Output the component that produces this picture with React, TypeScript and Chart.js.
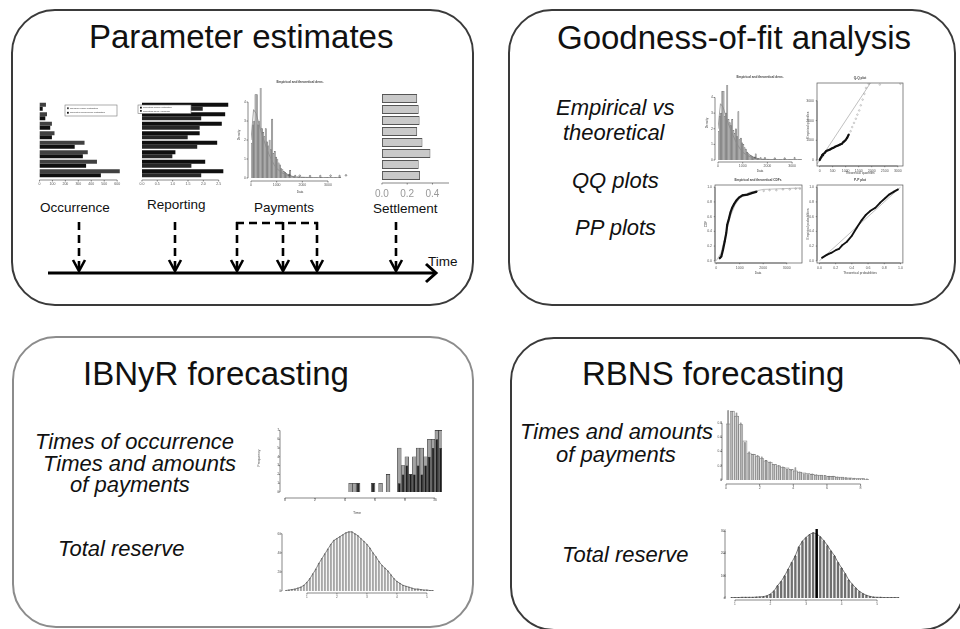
import React, { useEffect, useRef } from 'react';
import { Chart, registerables } from 'chart.js';

Chart.register(...registerables);

const FONT = "'Liberation Sans', Arial, Helvetica, sans-serif";
Chart.defaults.font.family = FONT;

// ---------------- data ----------------
// Parameter estimates: occurrence (horizontal paired bars)
const occCategories = ['1', '2', '3', '4', '5', '6', '7', '8'];
const occModel = [50, 58, 96, 116, 348, 373, 444, 620];
const occReported = [25, 45, 83, 96, 272, 335, 360, 474];
const occTicks = [0, 100, 200, 300, 400, 500, 600];
const occLegend = ['Number model estimated', 'Reported occurrence estimated'];

// reporting delay (horizontal paired bars)
const repModel = [2.81, 2.71, 2.6, 1.88, 2.45, 1.09, 2.06, 2.65];
const repObserved = [1.98, 1.93, 1.88, 1.49, 1.8, 0.99, 1.61, 1.93];
const repTicks = [0, 0.5, 1, 1.5, 2, 2.5];
const repTickLabels = ['0.0', '0.5', '1.0', '1.5', '2.0', '2.5'];
const repLegend = ['Reporting model estimated', 'Reporting delay empirical'];

// payments: histogram of amounts (bin width 50) + fitted density
const payBinStart = 0;
const payBinWidth = 50;
const payDensity = [
  1.84, 2.8, 3.0, 4.4, 4.4, 2.8, 3.0, 4.8, 2.6, 2.4,
  2.2, 2.6, 1.9, 1.7, 2.0, 1.5, 3.1, 1.3, 1.4, 1.1,
  1.0, 0.8, 0.7, 0.5, 0.45, 0.35, 0.3, 0.25, 0.2, 0.18,
  0.4, 0.12, 0.1, 0.08, 0.15, 0.05, 0.06, 0.04, 0.05, 0.03,
  0.04, 0.03, 0.02, 0.03, 0.02, 0.02, 0.03, 0.02, 0.01, 0.02,
  0.02, 0.02, 0.01, 0.02, 0.03, 0.02, 0.01, 0.02, 0.02, 0.03,
  0.02, 0.01, 0.02, 0.02, 0.01, 0.02, 0.02, 0.01, 0.02, 0.03,
];
const payCurveX = [0, 100, 200, 300, 400, 500, 600, 700, 800, 900, 1000, 1200, 1400, 1600, 1800, 2200, 2600, 3000, 3500];
const payCurveY = [2.0, 3.6, 3.4, 2.9, 2.4, 2.0, 1.6, 1.25, 0.95, 0.7, 0.5, 0.28, 0.15, 0.08, 0.05, 0.03, 0.02, 0.015, 0.01];
const payPointsX = [1500, 1900, 2300, 2700, 3100, 3450, 3700];
const payPointsY = [0.15, 0.12, 0.1, 0.1, 0.12, 0.1, 0.14];
const payTicksX = [0, 1000, 2000, 3000];
const payTicksY = [0, 1, 2, 3, 4];

// settlement
const settleCategories = ['1', '2', '3', '4', '5', '6', '7', '8'];
const settleValues = [0.279, 0.291, 0.298, 0.279, 0.321, 0.384, 0.291, 0.302];
const settleTicks = [0, 0.2, 0.4];
const settleTickLabels = ['0.0', '0.2', '0.4'];

// Goodness of fit: Q-Q plot (thousands)
const qqDarkX = [0.0, 0.03, 0.07, 0.1, 0.13, 0.2, 0.26, 0.33, 0.4, 0.46, 0.53, 0.59, 0.66, 0.73, 0.79, 0.86, 0.92, 0.99, 1.06, 1.12];
const qqDarkY = [-0.01, 0.08, 0.16, 0.25, 0.29, 0.37, 0.46, 0.5, 0.54, 0.58, 0.62, 0.67, 0.71, 0.75, 0.79, 0.83, 0.92, 1.0, 1.13, 1.3];
const qqLightX = [1.19, 1.25, 1.32, 1.39, 1.45, 1.52, 1.58, 1.65, 1.72, 1.78, 1.88, 2.31, 3.1];
const qqLightY = [1.46, 1.67, 1.88, 2.09, 2.3, 2.51, 2.77, 3.06, 3.35, 3.65, 3.86, 3.82, 3.86];
const qqLineX = [-0.1, 1.95];
const qqLineY = [-0.2, 3.9];
const qqTicksX = [0, 0.5, 1, 1.5, 2, 2.5, 3];
const qqTickLabelsX = ['0', '500', '1000', '1500', '2000', '2500', '3000'];
const qqTicksY = [0, 1, 2, 3];
const qqTickLabelsY = ['0', '1000', '2000', '3000'];

// Goodness of fit: CDF (thousands)
const cdfX = [0.14, 0.22, 0.29, 0.36, 0.43, 0.47, 0.54, 0.61, 0.68, 0.76, 0.86, 0.97, 1.12, 1.33, 1.51, 1.73, 2.02, 2.27, 2.56, 2.84, 3.13, 3.38, 3.56];
const cdfY = [0.03, 0.06, 0.15, 0.26, 0.38, 0.49, 0.57, 0.66, 0.72, 0.77, 0.82, 0.86, 0.89, 0.9, 0.92, 0.94, 0.95, 0.96, 0.96, 0.97, 0.97, 0.98, 0.98];
const cdfFitX = [0, 0.2, 0.4, 0.6, 0.8, 1.0, 1.4, 2.0, 3.6];
const cdfFitY = [0, 0.1, 0.35, 0.6, 0.76, 0.85, 0.93, 0.97, 0.99];
const cdfTicksX = [0, 1, 2, 3];
const cdfTickLabelsX = ['0', '1000', '2000', '3000'];
const probTicks = [0, 0.2, 0.4, 0.6, 0.8, 1];
const probTickLabels = ['0.0', '0.2', '0.4', '0.6', '0.8', '1.0'];

// Goodness of fit: P-P plot
const ppX = [0.03, 0.09, 0.15, 0.21, 0.24, 0.28, 0.34, 0.4, 0.46, 0.52, 0.57, 0.63, 0.69, 0.75, 0.81, 0.86, 0.92, 0.97];
const ppY = [0.04, 0.08, 0.11, 0.15, 0.16, 0.21, 0.26, 0.34, 0.45, 0.55, 0.62, 0.68, 0.72, 0.79, 0.85, 0.9, 0.94, 0.97];
const ppLineX = [0, 1];
const ppLineY = [0, 1];

// IBNyR: simulated times (bin width 0.25)
const ibnyrBinStart = 4.25;
const ibnyrBinWidth = 0.25;
const ibnyrOccurrence = [1, 1, 1, 0, 0, 0, 1, 0, 1, 0, 2, 0, 0, 5, 3, 4, 2, 4, 5, 5, 4, 6, 6, 7, 7];
const ibnyrPayments = [0, 0, 1, 0, 0, 0, 1, 0, 0, 0, 0, 0, 0, 1, 2, 3, 2, 2, 3, 2, 3, 4, 5, 6, 5];
const ibnyrTicksX = [0, 2, 4, 6, 8, 10];
const ibnyrTicksY = [0, 1, 2, 3, 4, 5, 6, 7];

// IBNyR total reserve (bin width 0.1)
const ibnyrResStart = 0.25;
const ibnyrResWidth = 0.1;
const ibnyrReserve = [
  0.5, 1, 1.5, 2, 3, 4, 6, 9, 13, 18,
  23, 29, 34, 39, 44, 49, 53, 55, 57, 59,
  61, 62, 62, 60, 58, 55, 52, 49, 45, 40,
  36, 31, 27, 24, 21, 17, 13, 10, 8, 6,
  5, 4, 3, 2, 2, 1.5, 1, 1, 0.5, 0.5,
];
const ibnyrResTicksX = [1, 2, 3, 4, 5];
const ibnyrResTicksY = [0, 20, 40, 60];

// RBNS: times and amounts of payments (bin width 0.25)
const rbnsBinStart = 0;
const rbnsBinWidth = 0.25;
const rbnsPayA = [0.98, 0.97, 0.95, 0.81, 0.53, 0.4, 0.37, 0.35, 0.33, 0.28, 0.26, 0.21, 0.21, 0.19, 0.16, 0.14, 0.18, 0.12, 0.09, 0.08, 0.09, 0.08, 0.07, 0.07, 0.06, 0.06, 0.05, 0.04, 0.04, 0.03, 0.03, 0.02, 0.02, 0.02];
const rbnsPayB = [0.79, 0.97, 0.9, 0.78, 0.55, 0.38, 0.36, 0.33, 0.3, 0.27, 0.25, 0.22, 0.2, 0.18, 0.17, 0.15, 0.13, 0.11, 0.1, 0.09, 0.08, 0.07, 0.07, 0.06, 0.05, 0.05, 0.04, 0.04, 0.03, 0.03, 0.02, 0.02, 0.02, 0.01];
const rbnsTicksX = [0, 2, 4, 6, 8];
const rbnsTicksY = [0, 0.2, 0.4, 0.6, 0.8];

// RBNS total reserve (bin width 0.1)
const rbnsResStart = 0.85;
const rbnsResWidth = 0.1;
const rbnsReserve = [
  2, 2, 2, 3, 3, 3, 3, 4, 5,
  6, 10, 18, 32, 56, 75, 100, 130, 160, 190,
  230, 255, 272, 285, 293, 288, 275, 258, 236, 212,
  190, 160, 135, 110, 82, 62, 45, 30, 20, 12,
  7, 4, 3, 3, 2, 2, 2, 2, 2,
];
const rbnsResMean = 3.3;
const rbnsResTicksX = [1, 2, 3, 4, 5];
const rbnsResTicksY = [0, 100, 200, 300];

// ---------------- helpers ----------------
const centers = (start: number, width: number, n: number) =>
  Array.from({ length: n }, (_, i) => start + width * (i + 0.5));
const pts = (xs: number[], ys: number[]) => ys.map((y, i) => ({ x: xs[i], y }));
const hist = (start: number, width: number, ys: number[]) => pts(centers(start, width, ys.length), ys);

const rAxes = {
  id: 'rAxes',
  afterDatasetsDraw(chart: any, _a: any, o: any) {
    if (!o || !o.axes || !o.axes.length) return;
    const { ctx, chartArea: ca } = chart;
    ctx.save();
    ctx.strokeStyle = o.color || '#555';
    ctx.lineWidth = o.lineWidth ?? 0.7;
    for (const a of o.axes) {
      const s = chart.scales[a.id];
      if (!s || !s.ticks || !s.ticks.length) continue;
      const n = s.ticks.length;
      const tl = a.tick ?? 1.5;
      const gap = a.gap ?? 2;
      ctx.beginPath();
      if (s.isHorizontal()) {
        const y = ca.bottom + gap;
        const p0 = s.getPixelForValue(s.ticks[0].value);
        const p1 = a.full ? ca.right : s.getPixelForValue(s.ticks[n - 1].value);
        ctx.moveTo(p0, y);
        ctx.lineTo(p1, y);
        for (const t of s.ticks) {
          const p = s.getPixelForValue(t.value);
          ctx.moveTo(p, y);
          ctx.lineTo(p, y + tl);
        }
      } else {
        const x = ca.left - gap;
        const p0 = s.getPixelForValue(s.ticks[0].value);
        const p1 = s.getPixelForValue(s.ticks[n - 1].value);
        ctx.moveTo(x, p0);
        ctx.lineTo(x, p1);
        for (const t of s.ticks) {
          const p = s.getPixelForValue(t.value);
          ctx.moveTo(x, p);
          ctx.lineTo(x - tl, p);
        }
      }
      ctx.stroke();
    }
    ctx.restore();
  },
};

const framePlugin = {
  id: 'frame',
  afterDatasetsDraw(chart: any, _a: any, o: any) {
    if (!o || !o.on) return;
    const { ctx, chartArea: ca } = chart;
    ctx.save();
    ctx.strokeStyle = '#555';
    ctx.lineWidth = 0.7;
    ctx.strokeRect(ca.left, ca.top, ca.right - ca.left, ca.bottom - ca.top);
    ctx.restore();
  },
};

const notesPlugin = {
  id: 'notes',
  afterDraw(chart: any, _a: any, o: any) {
    if (!o || !o.items) return;
    const { ctx } = chart;
    for (const it of o.items) {
      ctx.save();
      ctx.font = `${it.b ? 'bold ' : ''}${it.s || 3.2}px ${FONT}`;
      ctx.fillStyle = it.c || '#444';
      ctx.textAlign = 'center';
      ctx.textBaseline = 'middle';
      ctx.translate(it.x, it.y);
      if (it.r) ctx.rotate((it.r * Math.PI) / 180);
      ctx.fillText(it.t, 0, 0);
      ctx.restore();
    }
  },
};

const boxLegend = {
  id: 'boxLegend',
  afterDatasetsDraw(chart: any, _a: any, o: any) {
    if (!o || !o.rect) return;
    const { ctx } = chart;
    const [x, y, w, h] = o.rect;
    ctx.save();
    ctx.fillStyle = '#fff';
    ctx.fillRect(x, y, w, h);
    ctx.strokeStyle = '#777';
    ctx.lineWidth = 0.6;
    ctx.strokeRect(x, y, w, h);
    const ds = chart.data.datasets;
    const rowH = (h - 2) / ds.length;
    ctx.font = `${o.size || 2.6}px ${FONT}`;
    ctx.textBaseline = 'middle';
    ds.forEach((d: any, i: number) => {
      const cy = y + 1 + rowH * (i + 0.5);
      ctx.fillStyle = d.backgroundColor;
      ctx.fillRect(x + 2, cy - 0.9, 1.8, 1.8);
      ctx.fillStyle = '#333';
      ctx.fillText(d.label, x + 5, cy);
    });
    ctx.restore();
  },
};

type Note = { t: string; x: number; y: number; s?: number; r?: number; c?: string; b?: boolean };
type Mini = {
  key: string;
  area: [number, number, number, number];
  m: [number, number, number, number];
  type: any;
  data: any;
  scales: Record<string, any>;
  indexAxis?: 'x' | 'y';
  axes?: any[];
  frame?: boolean;
  notes?: Note[];
  legend?: { rect: [number, number, number, number]; size: number };
};

function lin(min: number, max: number, ticks: number[], labels?: string[], opts: any = {}) {
  return {
    type: 'linear',
    min,
    max,
    offset: false,
    bounds: 'data',
    display: opts.display ?? true,
    grid: { display: false, drawTicks: false },
    border: { display: false },
    afterBuildTicks: (sc: any) => {
      sc.ticks = ticks.map((v) => ({ value: v }));
    },
    ticks: {
      autoSkip: false,
      maxRotation: 0,
      minRotation: 0,
      padding: opts.padding ?? 4,
      color: opts.color || '#555',
      font: { size: opts.size || 3.5, family: FONT },
      callback: (v: any, i: number) => (labels ? labels[i] : String(v)),
    },
  };
}

function buildConfig(s: Mini, left: number, top: number) {
  const [ml, mt, mr, mb] = s.m;
  const scales: any = {};
  let xShown = false;
  let yShown = false;
  for (const id of Object.keys(s.scales)) {
    const o: any = { ...s.scales[id] };
    const horiz = id === 'x';
    if (o.display !== false) {
      if (horiz) xShown = true;
      else yShown = true;
      o.afterFit = (sc: any) => {
        if (horiz) sc.height = mb;
        else sc.width = ml;
      };
    }
    scales[id] = o;
  }
  const notes = (s.notes || []).map((n) => ({ ...n, x: n.x - left, y: n.y - top }));
  const legend = s.legend
    ? { rect: [s.legend.rect[0] - left, s.legend.rect[1] - top, s.legend.rect[2], s.legend.rect[3]], size: s.legend.size }
    : {};
  return {
    type: s.type,
    data: s.data,
    options: {
      animation: false,
      responsive: false,
      maintainAspectRatio: false,
      events: [],
      indexAxis: s.indexAxis || 'x',
      layout: {
        autoPadding: false,
        padding: { left: yShown ? 0 : ml, top: mt, right: mr, bottom: xShown ? 0 : mb },
      },
      scales,
      plugins: {
        legend: { display: false },
        tooltip: { enabled: false },
        title: { display: false },
        rAxes: { axes: s.axes || [] },
        frame: { on: !!s.frame },
        notes: { items: notes },
        boxLegend: legend,
      },
    },
    plugins: [rAxes, framePlugin, notesPlugin, boxLegend],
  } as any;
}

function MiniChart({ spec }: { spec: Mini }) {
  const ref = useRef<HTMLCanvasElement | null>(null);
  const [l, t, r, b] = spec.area;
  const [ml, mt, mr, mb] = spec.m;
  const left = l - ml;
  const top = t - mt;
  const w = r - l + ml + mr;
  const h = b - t + mt + mb;
  useEffect(() => {
    if (!ref.current) return;
    const chart = new Chart(ref.current, buildConfig(spec, left, top));
    return () => chart.destroy();
  }, []);
  return (
    <canvas
      ref={ref}
      width={w}
      height={h}
      style={{ position: 'absolute', left, top, width: w, height: h }}
    />
  );
}

// ---------------- chart specs ----------------
const histBar = (data: any, fill: string, border: string, bw = 0.4, bp = 1) => ({
  type: 'bar',
  data,
  backgroundColor: fill,
  borderColor: border,
  borderWidth: bw,
  barPercentage: bp,
  categoryPercentage: 1,
  grouped: false,
});
const lineDs = (data: any, color: string, width: number, radius = 0, dash: number[] = []) => ({
  type: 'line',
  data,
  borderColor: color,
  backgroundColor: color,
  borderWidth: width,
  pointRadius: radius,
  pointBorderWidth: 0,
  borderDash: dash,
  tension: 0,
  fill: false,
});
const pointDs = (data: any, color: string, radius: number, fill = true) => ({
  type: 'line',
  data,
  showLine: false,
  borderColor: color,
  backgroundColor: fill ? color : 'rgba(0,0,0,0)',
  pointRadius: radius,
  pointBorderWidth: 0.5,
});

const barOpts = { categoryPercentage: 0.84, barPercentage: 1 };

const specs: Mini[] = [
  {
    key: 'occurrence',
    area: [37, 102, 123, 178],
    m: [2, 2, 2, 12],
    type: 'bar',
    indexAxis: 'y',
    data: {
      labels: occCategories,
      datasets: [
        { label: occLegend[0], data: occModel, backgroundColor: '#404040', ...barOpts },
        { label: occLegend[1], data: occReported, backgroundColor: '#0f0f0f', ...barOpts },
      ],
    },
    scales: {
      x: lin(0, 645, occTicks, undefined, { padding: 3.5 }),
      y: { type: 'category', display: false, offset: true },
    },
    axes: [{ id: 'x', gap: 2 }],
    legend: { rect: [65, 105, 52, 11], size: 2.5 },
  },
  {
    key: 'reporting',
    area: [138, 102, 231, 178],
    m: [2, 2, 2, 12],
    type: 'bar',
    indexAxis: 'y',
    data: {
      labels: occCategories,
      datasets: [
        { label: repLegend[0], data: repModel, backgroundColor: '#0f0f0f', ...barOpts },
        { label: repLegend[1], data: repObserved, backgroundColor: '#262626', ...barOpts },
      ],
    },
    scales: {
      x: lin(0, 2.9, repTicks, repTickLabels, { padding: 3.5 }),
      y: { type: 'category', display: false, offset: true },
    },
    axes: [{ id: 'x', gap: 2 }],
    legend: { rect: [138, 105, 53, 8.5], size: 2.4 },
  },
  {
    key: 'payments',
    area: [251, 88, 349, 178],
    m: [15, 9, 3, 17],
    type: 'bar',
    data: {
      datasets: [
        pointDs(pts(payPointsX, payPointsY), '#333', 0.8, false),
        lineDs(pts(payCurveX, payCurveY), '#8a8a8a', 0.8),
        histBar(hist(payBinStart, payBinWidth, payDensity), '#b0b0b0', '#5e5e5e'),
      ],
    },
    scales: {
      x: lin(0, 3818, payTicksX, undefined, { padding: 4.5 }),
      y: lin(0, 4.74, payTicksY, undefined, { padding: 5 }),
    },
    axes: [{ id: 'x', gap: 3 }, { id: 'y', gap: 3 }],
    notes: [
      { t: 'Empirical and theoretical dens.', x: 300, y: 82, s: 3.2, b: true },
      { t: 'Density', x: 239, y: 135, r: -90 },
      { t: 'Data', x: 300, y: 192 },
    ],
  },
  {
    key: 'settlement',
    area: [372, 93, 449, 181],
    m: [4, 2, 3, 20],
    type: 'bar',
    indexAxis: 'y',
    data: {
      labels: settleCategories,
      datasets: [
        {
          label: 'Settlement',
          data: settleValues,
          backgroundColor: '#c9c9c9',
          borderColor: '#555',
          borderWidth: 1,
          borderSkipped: false,
          categoryPercentage: 1,
          barPercentage: 0.8,
        },
      ],
    },
    scales: {
      x: lin(0, 0.531, settleTicks, settleTickLabels, { padding: 7, size: 10, color: '#999' }),
      y: { type: 'category', display: false, offset: true },
    },
    axes: [{ id: 'x', gap: 2, full: true, tick: 1.5 }],
  },
  {
    key: 'gofHist',
    area: [718, 85, 802, 160],
    m: [14, 11, 3, 14],
    type: 'bar',
    data: {
      datasets: [
        pointDs(pts(payPointsX, payPointsY), '#333', 0.7, false),
        lineDs(pts(payCurveX, payCurveY), '#8a8a8a', 0.8),
        histBar(hist(payBinStart, payBinWidth, payDensity), '#b0b0b0', '#5e5e5e'),
      ],
    },
    scales: {
      x: lin(0, 3400, payTicksX, undefined, { padding: 4 }),
      y: lin(0, 4.8, payTicksY, undefined, { padding: 5 }),
    },
    axes: [{ id: 'x', gap: 2 }, { id: 'y', gap: 3 }],
    notes: [
      { t: 'Empirical and theoretical dens.', x: 760, y: 77, s: 3.2, b: true },
      { t: 'Density', x: 707, y: 123, r: -90 },
      { t: 'Data', x: 760, y: 171 },
    ],
  },
  {
    key: 'qq',
    area: [817, 83, 903, 166],
    m: [13, 9, 3, 10],
    type: 'scatter',
    data: {
      datasets: [
        lineDs(pts(qqDarkX, qqDarkY), '#111', 2.2, 0.9),
        pointDs(pts(qqLightX, qqLightY), '#9a9a9a', 0.8, false),
        lineDs(pts(qqLineX, qqLineY), '#b0b0b0', 0.8),
      ],
    },
    scales: {
      x: lin(-0.1, 3.2, qqTicksX, qqTickLabelsX, { padding: 3 }),
      y: lin(-0.3, 3.9, qqTicksY, qqTickLabelsY, { padding: 3 }),
    },
    axes: [{ id: 'x', gap: 0, tick: 1.2 }, { id: 'y', gap: 0, tick: 1.2 }],
    frame: true,
    notes: [
      { t: 'Q-Q plot', x: 860, y: 78, s: 3.2, b: true },
      { t: 'Theoretical quantiles', x: 860, y: 173 },
      { t: 'Empirical quantiles', x: 808, y: 125, r: -90 },
    ],
  },
  {
    key: 'cdf',
    area: [715, 185, 802, 263],
    m: [13, 9, 3, 13],
    type: 'scatter',
    data: {
      datasets: [
        lineDs(pts(cdfX.slice(0, 16), cdfY.slice(0, 16)), '#111', 2.2, 0.8),
        pointDs(pts(cdfX.slice(16), cdfY.slice(16)), '#8a8a8a', 0.8, false),
        lineDs(pts(cdfFitX, cdfFitY), '#b0b0b0', 0.8),
      ],
    },
    scales: {
      x: lin(-0.05, 3.65, cdfTicksX, cdfTickLabelsX, { padding: 3 }),
      y: lin(-0.03, 1.03, probTicks, probTickLabels, { padding: 3 }),
    },
    axes: [{ id: 'x', gap: 0, tick: 1.2 }, { id: 'y', gap: 0, tick: 1.2 }],
    frame: true,
    notes: [
      { t: 'Empirical and theoretical CDFs', x: 758, y: 180, s: 3.2, b: true },
      { t: 'Data', x: 758, y: 273 },
      { t: 'CDF', x: 706, y: 224, r: -90 },
    ],
  },
  {
    key: 'pp',
    area: [817, 185, 903, 263],
    m: [13, 9, 3, 13],
    type: 'scatter',
    data: {
      datasets: [
        lineDs(pts(ppX, ppY), '#111', 1.9, 0.8),
        lineDs(pts(ppLineX, ppLineY), '#b0b0b0', 0.8),
      ],
    },
    scales: {
      x: lin(-0.03, 1.03, probTicks, probTickLabels, { padding: 3 }),
      y: lin(-0.03, 1.03, probTicks, probTickLabels, { padding: 3 }),
    },
    axes: [{ id: 'x', gap: 0, tick: 1.2 }, { id: 'y', gap: 0, tick: 1.2 }],
    frame: true,
    notes: [
      { t: 'P-P plot', x: 860, y: 180, s: 3.2, b: true },
      { t: 'Theoretical probabilities', x: 860, y: 273 },
      { t: 'Empirical probabilities', x: 808, y: 224, r: -90 },
    ],
  },
  {
    key: 'ibnyrTimes',
    area: [283, 425, 442, 492],
    m: [30, 4, 4, 26],
    type: 'bar',
    data: {
      datasets: [
        histBar(hist(ibnyrBinStart, ibnyrBinWidth, ibnyrPayments), '#1c1c1c', '#111', 0.5, 0.7),
        histBar(hist(ibnyrBinStart, ibnyrBinWidth, ibnyrOccurrence), '#a3a3a3', '#333', 0.6, 1),
      ],
    },
    scales: {
      x: lin(-0.13, 10.47, ibnyrTicksX, undefined, { padding: 5.5, size: 3.6 }),
      y: lin(0, 7.4, ibnyrTicksY, undefined, { padding: 4, size: 3.2 }),
    },
    axes: [{ id: 'x', gap: 6 }, { id: 'y', gap: 3 }],
    notes: [
      { t: 'Time', x: 357, y: 513, s: 3.6 },
      { t: 'Frequency', x: 259, y: 458, r: -90, s: 3.6 },
    ],
  },
  {
    key: 'ibnyrReserve',
    area: [285, 528, 435, 591],
    m: [16, 3, 3, 10],
    type: 'bar',
    data: {
      datasets: [
        lineDs(hist(ibnyrResStart, ibnyrResWidth, ibnyrReserve), '#555', 0.7, 0.6),
        histBar(hist(ibnyrResStart, ibnyrResWidth, ibnyrReserve), '#a6a6a6', '#7a7a7a', 0.3, 0.78),
      ],
    },
    scales: {
      x: lin(0.27, 5.27, ibnyrResTicksX, undefined, { padding: 4, size: 3.2 }),
      y: lin(0, 63, ibnyrResTicksY, undefined, { padding: 4, size: 3.2 }),
    },
    axes: [{ id: 'x', gap: 2 }, { id: 'y', gap: 3 }],
  },
  {
    key: 'rbnsPayments',
    area: [726, 406, 869, 480],
    m: [12, 3, 3, 16],
    type: 'bar',
    data: {
      datasets: [
        histBar(hist(rbnsBinStart, rbnsBinWidth, rbnsPayA), '#8f8f8f', '#555', 0.5, 0.45),
        histBar(hist(rbnsBinStart, rbnsBinWidth, rbnsPayB), '#ececec', '#777', 0.7, 1),
      ],
    },
    scales: {
      x: lin(0, 8.5, rbnsTicksX, undefined, { padding: 6, size: 3.6 }),
      y: lin(0, 1.0, rbnsTicksY, undefined, { padding: 4, size: 3.2 }),
    },
    axes: [{ id: 'x', gap: 4, tick: 2 }, { id: 'y', gap: 4 }],
  },
  {
    key: 'rbnsReserve',
    area: [730, 526, 903, 598],
    m: [16, 3, 3, 10],
    type: 'bar',
    data: {
      datasets: [
        lineDs([{ x: rbnsResMean, y: 0 }, { x: rbnsResMean, y: 310 }], '#000', 2.4),
        lineDs(hist(rbnsResStart, rbnsResWidth, rbnsReserve), '#444', 0.7, 0.6),
        histBar(hist(rbnsResStart, rbnsResWidth, rbnsReserve), '#6f6f6f', '#555', 0.3, 0.8),
      ],
    },
    scales: {
      x: lin(0.86, 5.73, rbnsResTicksX, undefined, { padding: 4, size: 3.2 }),
      y: lin(0, 310, rbnsResTicksY, undefined, { padding: 4, size: 3.2 }),
    },
    axes: [{ id: 'x', gap: 2 }, { id: 'y', gap: 5 }],
  },
];

// ---------------- page layout ----------------
const boxes = [
  { left: 11, top: 9, width: 463, height: 297, color: '#3a3a3a', bw: 2.5 },
  { left: 508, top: 9, width: 448, height: 297, color: '#3a3a3a', bw: 2.5 },
  { left: 12, top: 336, width: 462, height: 292, color: '#8c8c8c', bw: 2 },
  { left: 510, top: 337, width: 455, height: 294, color: '#3a3a3a', bw: 2.5 },
];

const titles = [
  { t: 'Parameter estimates', left: 89, top: 20 },
  { t: 'Goodness-of-fit analysis', left: 557, top: 21 },
  { t: 'IBNyR forecasting', left: 83, top: 357 },
  { t: 'RBNS forecasting', left: 582, top: 357 },
];

const italics = [
  { t: 'Empirical vs', left: 556, top: 96.5 },
  { t: 'theoretical', left: 563, top: 121.5 },
  { t: 'QQ plots', left: 572, top: 169.5 },
  { t: 'PP plots', left: 575, top: 216.5 },
  { t: 'Times of occurrence', left: 35, top: 431 },
  { t: 'Times and amounts', left: 43, top: 453 },
  { t: 'of payments', left: 70, top: 473.5 },
  { t: 'Total reserve', left: 58, top: 537.5 },
  { t: 'Times and amounts', left: 520, top: 420.5 },
  { t: 'of payments', left: 556, top: 443.5 },
  { t: 'Total reserve', left: 562, top: 543.5 },
];

const stages = [
  { t: 'Occurrence', left: 40, top: 200.6 },
  { t: 'Reporting', left: 147, top: 197.6 },
  { t: 'Payments', left: 254, top: 200.6 },
  { t: 'Settlement', left: 373, top: 201.6 },
  { t: 'Time', left: 428, top: 254.6 },
];

const arrowXs = [79, 175, 237, 283, 317, 396];

export default function App() {
  return (
    <div
      style={{
        position: 'fixed',
        left: 0,
        top: 0,
        width: 960,
        height: 629,
        background: '#fff',
        overflow: 'hidden',
        fontFamily: FONT,
        color: '#111',
      }}
    >
      {boxes.map((b, i) => (
        <div
          key={'b' + i}
          style={{
            position: 'absolute',
            left: b.left,
            top: b.top,
            width: b.width,
            height: b.height,
            border: `${b.bw}px solid ${b.color}`,
            borderRadius: 44,
            boxSizing: 'border-box',
          }}
        />
      ))}
      <svg width={960} height={629} style={{ position: 'absolute', left: 0, top: 0 }}>
        <line x1={48} y1={273} x2={434} y2={273} stroke="#000" strokeWidth={3} />
        <polyline points="426,264 436,273 426,282" fill="none" stroke="#000" strokeWidth={3} />
        <line x1={236} y1={223} x2={318} y2={223} stroke="#000" strokeWidth={2.6} strokeDasharray="8 5" />
        {arrowXs.map((x) => (
          <g key={'a' + x}>
            <line x1={x} y1={222} x2={x} y2={269} stroke="#000" strokeWidth={2.6} strokeDasharray="8 5" />
            <polyline points={`${x - 6},260 ${x},271 ${x + 6},260`} fill="none" stroke="#000" strokeWidth={2.6} />
          </g>
        ))}
      </svg>
      {titles.map((t, i) => (
        <div
          key={'t' + i}
          style={{ position: 'absolute', left: t.left, top: t.top, fontSize: 33, lineHeight: '33px', whiteSpace: 'nowrap' }}
        >
          {t.t}
        </div>
      ))}
      {italics.map((t, i) => (
        <div
          key={'i' + i}
          style={{
            position: 'absolute',
            left: t.left,
            top: t.top,
            fontSize: 22,
            lineHeight: '22px',
            fontStyle: 'italic',
            whiteSpace: 'nowrap',
          }}
        >
          {t.t}
        </div>
      ))}
      {stages.map((t, i) => (
        <div
          key={'s' + i}
          style={{ position: 'absolute', left: t.left, top: t.top, fontSize: 13.5, lineHeight: '13.5px', whiteSpace: 'nowrap' }}
        >
          {t.t}
        </div>
      ))}
      {specs.map((s) => (
        <MiniChart key={s.key} spec={s} />
      ))}
    </div>
  );
}
